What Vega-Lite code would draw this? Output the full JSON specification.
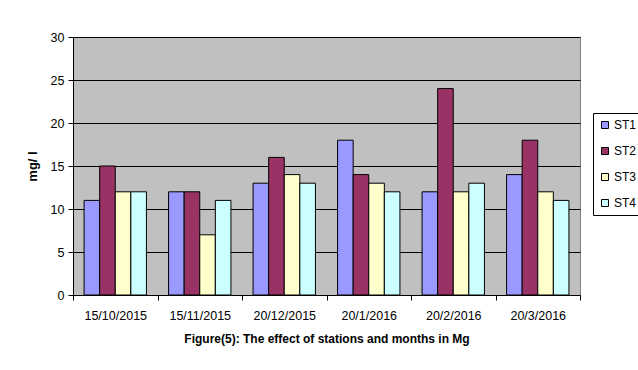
{
  "$schema": "https://vega.github.io/schema/vega-lite/v6.json",
  "width": 507,
  "height": 258,
  "autosize": {"type": "none"},
  "padding": {"left": 73, "top": 37, "right": 58, "bottom": 75},
  "background": "white",
  "data": {
    "values": [
      {"date": "15/10/2015", "station": "ST1", "value": 11},
      {"date": "15/10/2015", "station": "ST2", "value": 15},
      {"date": "15/10/2015", "station": "ST3", "value": 12},
      {"date": "15/10/2015", "station": "ST4", "value": 12},
      {"date": "15/11/2015", "station": "ST1", "value": 12},
      {"date": "15/11/2015", "station": "ST2", "value": 12},
      {"date": "15/11/2015", "station": "ST3", "value": 7},
      {"date": "15/11/2015", "station": "ST4", "value": 11},
      {"date": "20/12/2015", "station": "ST1", "value": 13},
      {"date": "20/12/2015", "station": "ST2", "value": 16},
      {"date": "20/12/2015", "station": "ST3", "value": 14},
      {"date": "20/12/2015", "station": "ST4", "value": 13},
      {"date": "20/1/2016", "station": "ST1", "value": 18},
      {"date": "20/1/2016", "station": "ST2", "value": 14},
      {"date": "20/1/2016", "station": "ST3", "value": 13},
      {"date": "20/1/2016", "station": "ST4", "value": 12},
      {"date": "20/2/2016", "station": "ST1", "value": 12},
      {"date": "20/2/2016", "station": "ST2", "value": 24},
      {"date": "20/2/2016", "station": "ST3", "value": 12},
      {"date": "20/2/2016", "station": "ST4", "value": 13},
      {"date": "20/3/2016", "station": "ST1", "value": 14},
      {"date": "20/3/2016", "station": "ST2", "value": 18},
      {"date": "20/3/2016", "station": "ST3", "value": 12},
      {"date": "20/3/2016", "station": "ST4", "value": 11}
    ]
  },
  "mark": {"type": "bar", "stroke": "black", "strokeWidth": 1},
  "encoding": {
    "x": {
      "field": "date",
      "type": "nominal",
      "sort": ["15/10/2015", "15/11/2015", "20/12/2015", "20/1/2016", "20/2/2016", "20/3/2016"],
      "scale": {"paddingInner": 0, "paddingOuter": 0},
      "title": "Figure(5): The effect of stations and months in Mg",
      "axis": {
        "tickBand": "extent",
        "labelAngle": 0,
        "grid": false,
        "tickColor": "black",
        "tickSize": 5,
        "domainColor": "black",
        "labelColor": "black",
        "labelFontSize": 12.5,
        "labelPadding": 9,
        "titleColor": "black",
        "titleFontSize": 12,
        "titleFontWeight": "bold",
        "titlePadding": 12
      }
    },
    "xOffset": {
      "field": "station",
      "type": "nominal",
      "scale": {"paddingInner": 0, "paddingOuter": 0.71}
    },
    "y": {
      "field": "value",
      "type": "quantitative",
      "scale": {"domain": [0, 30], "nice": false},
      "title": "mg/ l",
      "axis": {
        "values": [0, 5, 10, 15, 20, 25, 30],
        "grid": true,
        "gridColor": "black",
        "gridOpacity": 1,
        "gridWidth": 1,
        "tickColor": "black",
        "tickSize": 5,
        "domainColor": "black",
        "labelColor": "black",
        "labelFontSize": 12.5,
        "labelPadding": 4,
        "titleColor": "black",
        "titleFontSize": 13,
        "titleFontWeight": "bold",
        "titlePadding": 11
      }
    },
    "color": {
      "field": "station",
      "type": "nominal",
      "scale": {
        "domain": ["ST1", "ST2", "ST3", "ST4"],
        "range": ["#9999FF", "#993366", "#FFFFCC", "#CCFFFF"]
      },
      "legend": {
        "title": null,
        "orient": "none",
        "legendX": 520,
        "legendY": 76,
        "direction": "vertical",
        "fillColor": "white",
        "strokeColor": "black",
        "padding": 6,
        "rowPadding": 14,
        "symbolType": "square",
        "symbolSize": 49,
        "symbolStrokeColor": "black",
        "symbolStrokeWidth": 1,
        "symbolOpacity": 1,
        "labelFontSize": 12,
        "labelColor": "black",
        "labelOffset": 3
      }
    }
  },
  "config": {
    "font": "Liberation Sans",
    "view": {"fill": "#C0C0C0", "stroke": "#808080"}
  }
}
